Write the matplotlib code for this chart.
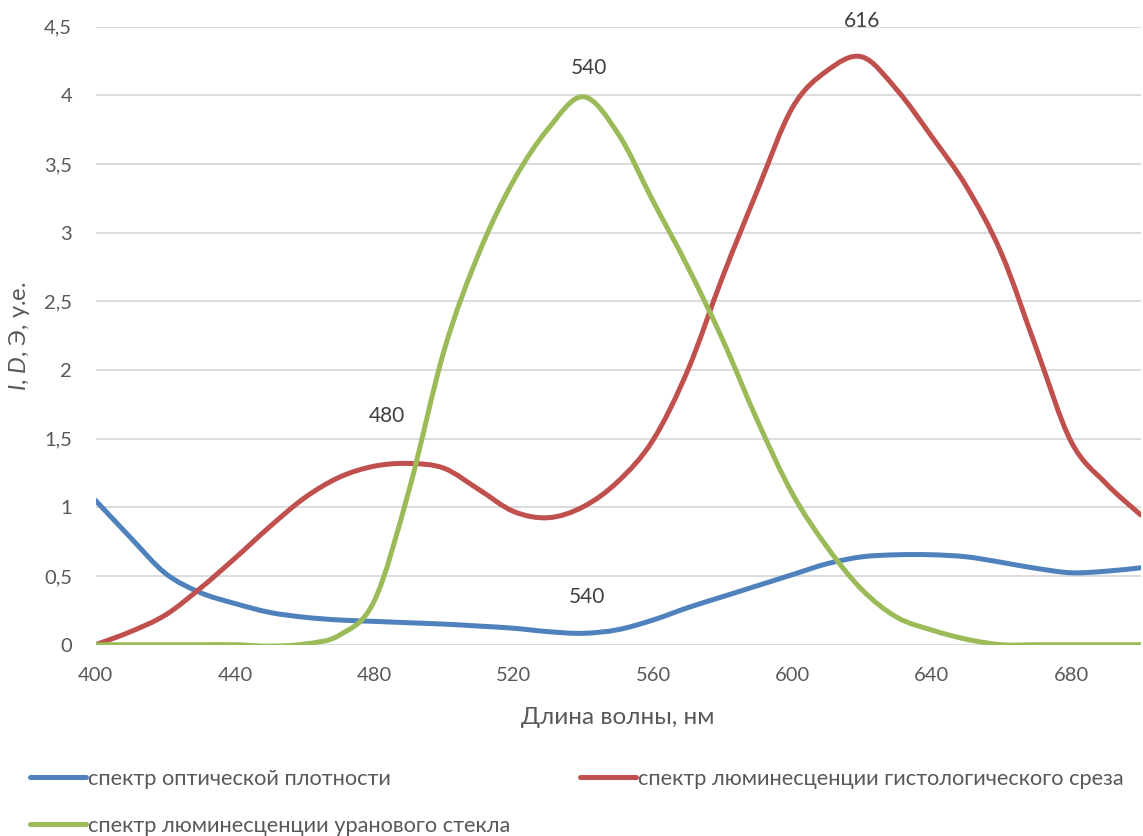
import matplotlib
matplotlib.use("Agg")
import matplotlib.pyplot as plt
from matplotlib.path import Path
from matplotlib.patches import PathPatch
from matplotlib.lines import Line2D
import numpy as np

plt.rcParams["font.family"] = ["Lato", "DejaVu Sans"]
plt.rcParams["mathtext.fontset"] = "custom"
plt.rcParams["mathtext.it"] = "Lato:italic"
plt.rcParams["mathtext.rm"] = "Lato"

# wavelength grid, nm
wavelength = [400, 410, 420, 430, 440, 450, 460, 470, 480, 490, 500,
              510, 520, 530, 540, 550, 560, 570, 580, 590, 600,
              610, 620, 630, 640, 650, 660, 670, 680, 690, 700]

optical_density = [1.05, 0.78, 0.52, 0.38, 0.30, 0.235, 0.20, 0.18, 0.17, 0.16, 0.15,
                   0.136, 0.12, 0.095, 0.083, 0.11, 0.18, 0.27, 0.35, 0.43, 0.51,
                   0.59, 0.64, 0.655, 0.655, 0.64, 0.60, 0.556, 0.524, 0.535, 0.56]

tissue_lum = [0.0, 0.095, 0.216, 0.41, 0.63, 0.86, 1.07, 1.22, 1.30, 1.32, 1.285,
              1.13, 0.97, 0.925, 1.005, 1.19, 1.49, 2.0, 2.68, 3.31, 3.91,
              4.18, 4.28, 4.04, 3.70, 3.335, 2.85, 2.16, 1.48, 1.175, 0.945]

glass_lum = [0.0, 0.0, 0.0, 0.0, 0.0, -0.01, 0.005, 0.07, 0.32, 1.13, 2.14,
             2.85, 3.38, 3.76, 3.99, 3.72, 3.23, 2.75, 2.22, 1.63, 1.10,
             0.71, 0.40, 0.20, 0.107, 0.04, 0.0, 0.0, 0.0, 0.0, 0.0]

series_names = ["спектр оптической плотности",
                "спектр люминесценции гистологического среза",
                "спектр люминесценции уранового стекла"]
series_colors = ["#4F81BD", "#C0504D", "#9BBB59"]

# peak labels: (text, x, y)
peak_labels = [("616", 620, 4.54), ("540", 541.5, 4.2),
               ("480", 483.5, 1.665), ("540", 541, 0.35)]


def smooth_path(xs, ys):
    """Catmull-Rom bezier through the points (smoothed line)."""
    xs = np.asarray(xs, float)
    ys = np.asarray(ys, float)
    verts = [(xs[0], ys[0])]
    codes = [Path.MOVETO]
    n = len(xs)
    for i in range(n - 1):
        x0, y0 = (xs[i - 1], ys[i - 1]) if i > 0 else (xs[i], ys[i])
        x1, y1 = xs[i], ys[i]
        x2, y2 = xs[i + 1], ys[i + 1]
        x3, y3 = (xs[i + 2], ys[i + 2]) if i + 2 < n else (x2, y2)
        c1 = (x1 + (x2 - x0) / 6, y1 + (y2 - y0) / 6)
        c2 = (x2 - (x3 - x1) / 6, y2 - (y3 - y1) / 6)
        verts += [c1, c2, (x2, y2)]
        codes += [Path.CURVE4] * 3
    return Path(verts, codes)


fig = plt.figure(figsize=(11.43, 8.36), dpi=100)
ax = fig.add_axes([0.0837, 0.2288, 0.9143, 0.7393])

lw = 3.6
for ys, color in zip([optical_density, tissue_lum, glass_lum], series_colors):
    patch = PathPatch(smooth_path(wavelength, ys), facecolor="none",
                      edgecolor=color, lw=lw, capstyle="round", joinstyle="round",
                      transform=ax.transData, zorder=3)
    ax.add_patch(patch)

for txt, x, y in peak_labels:
    ax.text(x, y, txt, ha="center", va="center", fontsize=15, color="#404040",
            clip_on=False)

ax.set_xlim(400, 700)
ax.set_ylim(0, 4.5)
ax.set_xticks(range(400, 701, 40))
ax.set_yticks(np.arange(0, 4.51, 0.5))
ax.set_yticklabels([f"{v:g}".replace(".", ",") for v in np.arange(0, 4.51, 0.5)])
ax.tick_params(length=0, labelsize=14.5, labelcolor="#595959")
ax.tick_params(axis="y", pad=17)
ax.tick_params(axis="x", pad=16)
ax.grid(axis="y", color="#d9d9d9", lw=1.3)
ax.set_axisbelow(True)
for s in ax.spines.values():
    s.set_visible(False)

ax.set_xlabel("Длина волны, нм", fontsize=17.5, color="#595959")
ax.xaxis.set_label_coords(0.5, -0.1)
ax.set_ylabel(r"$I$, $D$, Э, у.е.", fontsize=17, color="#595959")
ax.yaxis.set_label_coords(-0.061, 0.5)

# legend: one entry per box so each row/column sits where it should
legend_font = {"family": ["Lato", "DejaVu Sans"], "size": 15.7}
entry_pos = [(30, 779), (580, 779), (30, 826)]
for name, color, (px, py) in zip(series_names, series_colors, entry_pos):
    h = Line2D([], [], color=color, lw=lw, solid_capstyle="round")
    leg = fig.legend([h], [name], loc="center left",
                     bbox_to_anchor=(px / 1143, 1 - py / 836),
                     frameon=False, handlelength=2.55, handletextpad=0.1,
                     prop=legend_font, labelcolor="#595959",
                     borderaxespad=0, borderpad=0)

fig.savefig("out.png", dpi=100)
